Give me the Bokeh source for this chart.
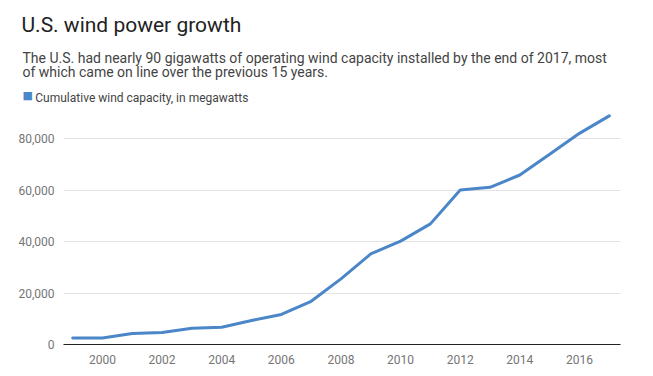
from bokeh.plotting import figure
from bokeh.models import Range1d, FixedTicker, NumeralTickFormatter, Title
from bokeh.embed import file_html
from bokeh.resources import INLINE

# ---- data ----
years = [1999, 2000, 2001, 2002, 2003, 2004, 2005, 2006, 2007, 2008,
         2009, 2010, 2011, 2012, 2013, 2014, 2015, 2016, 2017]
capacity_mw = [2500, 2550, 4300, 4700, 6300, 6700, 9300, 11700, 16800, 25500,
               35200, 40200, 46900, 60100, 61100, 65900, 74000, 82100, 88900]
x_ticks = [2000, 2002, 2004, 2006, 2008, 2010, 2012, 2014, 2016]
y_ticks = [0, 20000, 40000, 60000, 80000]

title_text = "U.S. wind power growth"
subtitle_lines = [
    "The U.S. had nearly 90 gigawatts of operating wind capacity installed by the end of 2017, most",
    "of which came on line over the previous 15 years.",
]
series_name = "Cumulative wind capacity, in megawatts"

BLUE = "#4a86c8"
FONT = "Roboto"

p = figure(width=653, height=376, output_backend="svg", toolbar_location=None,
           title=None,
           x_range=Range1d(1998.692, 2017.377), y_range=Range1d(0, 90200),
           min_border_left=63, min_border_right=33, min_border_top=112,
           min_border_bottom=32)
p.outline_line_color = None

p.line(years, capacity_mw, line_color=BLUE, line_width=3,
       line_join="round", line_cap="round")

# ---- header rows (stacked upward from the plot frame) ----
# spacer between legend row and plot area
p.add_layout(Title(text=" ", align="left", offset=0, vertical_align="middle",
                   standoff=0.7, text_font=FONT, text_font_size="10px",
                   text_font_style="normal"), "above")
# legend label
p.add_layout(Title(text=series_name, align="left", offset=-28.2,
                   vertical_align="middle", standoff=-14.5,
                   text_font=FONT, text_font_size="12px",
                   text_font_style="normal", text_color="#444444"), "above")
# legend swatch
p.add_layout(Title(text="\u25A0", align="left", offset=-41,
                   vertical_align="middle", standoff=-13.3,
                   text_font="DejaVu Sans", text_font_size="11px",
                   text_font_style="normal", text_color=BLUE), "above")
# subtitle
p.add_layout(Title(text="\n".join(subtitle_lines), align="left", offset=-41,
                   vertical_align="bottom", standoff=29.4,
                   text_font=FONT, text_font_size="14px",
                   text_font_style="normal", text_color="#444444",
                   text_line_height=0.89), "above")
# title
p.add_layout(Title(text=title_text, align="left", offset=-42,
                   vertical_align="bottom", standoff=-9.8,
                   text_font=FONT, text_font_size="21px",
                   text_font_style="normal", text_color="#222222"), "above")

# ---- axes ----
xa = p.xaxis[0]
xa.ticker = FixedTicker(ticks=x_ticks)
xa.major_tick_line_color = None
xa.minor_tick_line_color = None
xa.axis_line_color = "#222222"
xa.axis_line_width = 1.2
xa.major_label_standoff = 4
xa.major_label_text_font = FONT
xa.major_label_text_font_size = "12px"
xa.major_label_text_color = "#757575"

ya = p.yaxis[0]
ya.ticker = FixedTicker(ticks=y_ticks)
ya.formatter = NumeralTickFormatter(format="0,0")
ya.major_tick_line_color = None
ya.minor_tick_line_color = None
ya.axis_line_color = None
ya.major_label_standoff = 3
ya.major_label_text_font = FONT
ya.major_label_text_font_size = "12px"
ya.major_label_text_color = "#757575"

p.xgrid.grid_line_color = None
p.ygrid.grid_line_color = "#e3e3e3"
p.ygrid.grid_line_width = 1

open("out.html", "w").write(file_html(p, INLINE))
